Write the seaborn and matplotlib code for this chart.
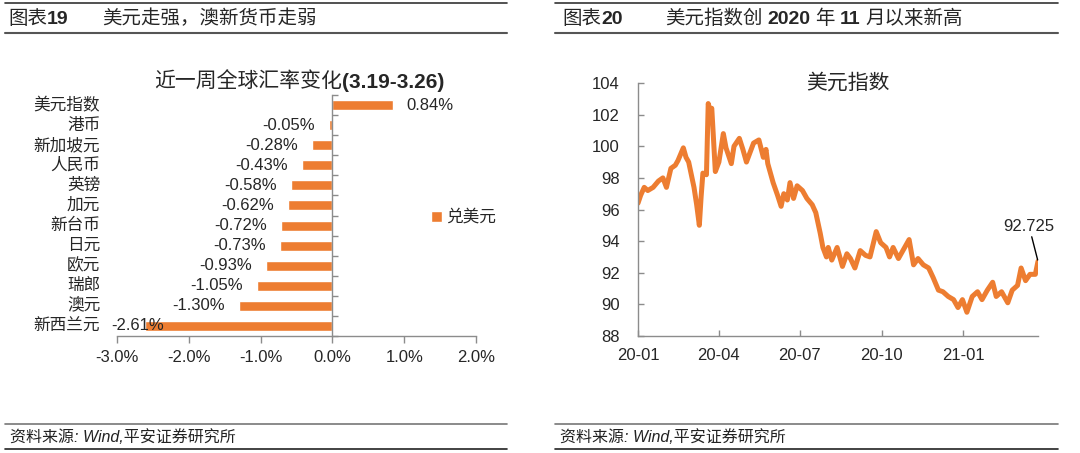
import pandas as pd
import matplotlib.pyplot as plt
import matplotlib.dates as mdates
from matplotlib.lines import Line2D
from matplotlib.ticker import FixedLocator, FuncFormatter
from matplotlib.transforms import blended_transform_factory
import seaborn as sns

# ---------- data ----------
currencies = ['美元指数', '港币', '新加坡元', '人民币', '英镑', '加元',
              '新台币', '日元', '欧元', '瑞郎', '澳元', '新西兰元']
weekly_change = [0.84, -0.05, -0.28, -0.43, -0.58, -0.62,
                 -0.72, -0.73, -0.93, -1.05, -1.30, -2.61]
series_name = '兑美元'

dxy_dates = [
    '2020-01-01', '2020-01-04', '2020-01-08', '2020-01-12', '2020-01-18', '2020-01-24',
    '2020-01-29', '2020-02-02', '2020-02-07', '2020-02-12', '2020-02-15', '2020-02-21',
    '2020-02-24', '2020-02-27', '2020-03-04', '2020-03-07', '2020-03-10', '2020-03-12',
    '2020-03-14', '2020-03-18', '2020-03-20', '2020-03-22', '2020-03-24', '2020-03-28',
    '2020-04-01', '2020-04-06', '2020-04-09', '2020-04-15', '2020-04-18', '2020-04-24',
    '2020-04-28', '2020-05-02', '2020-05-10', '2020-05-16', '2020-05-21', '2020-05-24',
    '2020-05-26', '2020-06-01', '2020-06-06', '2020-06-10', '2020-06-13', '2020-06-17',
    '2020-06-20', '2020-06-24', '2020-06-28', '2020-07-04', '2020-07-09', '2020-07-15',
    '2020-07-19', '2020-07-24', '2020-07-27', '2020-07-31', '2020-08-02', '2020-08-06',
    '2020-08-12', '2020-08-18', '2020-08-23', '2020-08-27', '2020-09-01', '2020-09-07',
    '2020-09-13', '2020-09-18', '2020-09-25', '2020-09-30', '2020-10-06', '2020-10-10',
    '2020-10-14', '2020-10-20', '2020-10-25', '2020-11-01', '2020-11-06', '2020-11-11',
    '2020-11-17', '2020-11-23', '2020-11-28', '2020-12-04', '2020-12-09', '2020-12-15',
    '2020-12-21', '2020-12-26', '2020-12-31', '2021-01-05', '2021-01-11', '2021-01-17',
    '2021-01-22', '2021-01-28', '2021-02-03', '2021-02-07', '2021-02-13', '2021-02-20',
    '2021-02-25', '2021-03-03', '2021-03-07', '2021-03-12', '2021-03-17', '2021-03-23',
    '2021-03-26',
]
dxy_values = [
    96.4, 96.9, 97.4, 97.2, 97.4, 97.8,
    98.0, 97.4, 98.6, 98.8, 99.1, 99.9,
    99.3, 99.0, 97.4, 96.3, 95.0, 96.8,
    98.3, 98.2, 102.7, 102.3, 102.4, 98.4,
    99.0, 100.8, 99.9, 98.9, 100.0, 100.5,
    99.8, 99.0, 100.2, 100.4, 99.3, 99.8,
    98.9, 97.7, 96.9, 96.2, 97.0, 96.6,
    97.7, 96.7, 97.5, 97.2, 96.7, 96.3,
    95.8, 94.5, 93.6, 93.0, 93.6, 92.8,
    93.6, 92.4, 93.2, 92.9, 92.3, 93.4,
    93.1, 93.0, 94.6, 93.9, 93.6, 93.0,
    93.6, 92.9, 93.4, 94.1, 92.5, 92.9,
    92.5, 92.3, 91.7, 90.9, 90.8, 90.5,
    90.3, 89.8, 90.3, 89.5, 90.5, 90.8,
    90.3, 90.9, 91.4, 90.5, 90.8, 90.1,
    90.9, 91.2, 92.3, 91.5, 91.9, 91.9,
    92.725,
]
dxy_ticks = ['2020-01-01', '2020-04-01', '2020-07-01', '2020-10-01', '2021-01-01']
dxy_last_label = '92.725'

ORANGE = '#ED7D31'
AXIS_GRAY = '#8C8C8C'

sns.set_theme(style='white')
plt.rcParams['font.family'] = ['Liberation Sans', 'Noto Sans CJK SC']
plt.rcParams['axes.unicode_minus'] = False

W, H = 1080, 453
fig = plt.figure(figsize=(W / 100, H / 100), dpi=100)
fig.patch.set_facecolor('white')

# ==========================================
# Left: bar chart
# ==========================================
ax1 = fig.add_axes([117 / W, 1 - 336 / H, 359 / W, 241 / H])
bar_df = pd.DataFrame({'currency': currencies, 'change': weekly_change,
                       'series': series_name})
sns.barplot(data=bar_df, x='change', y='currency', hue='series', orient='h',
            palette=[ORANGE], saturation=1, width=0.5, ax=ax1, legend=True)

ax1.set_xlim(-3, 2)
ax1.set_ylim(len(currencies) - 0.5, -0.5)
ax1.set_xlabel('')
ax1.set_ylabel('')
ax1.set_xticks(range(-3, 3))
ax1.xaxis.set_major_formatter(FuncFormatter(lambda v, p: f'{v:.1f}%'))
ax1.tick_params(axis='x', direction='out', length=5, width=1, color=AXIS_GRAY,
                labelsize=12, pad=5, bottom=True)

for s in ['top', 'right']:
    ax1.spines[s].set_visible(False)
ax1.spines['left'].set_position(('data', 0))
for s in ['left', 'bottom']:
    ax1.spines[s].set_color(AXIS_GRAY)
    ax1.spines[s].set_linewidth(1)

# category boundaries as small inward ticks on the zero line
ax1.set_yticks(range(len(currencies)))
ax1.set_yticklabels([])
ax1.yaxis.set_minor_locator(FixedLocator([i - 0.5 for i in range(len(currencies) + 1)]))
ax1.tick_params(axis='y', which='major', length=0)
ax1.tick_params(axis='y', which='minor', direction='in', length=4, width=1,
                color=AXIS_GRAY, left=True)

lab_tr = blended_transform_factory(ax1.transAxes, ax1.transData)
for i, name in enumerate(currencies):
    ax1.text(-0.047, i, name, transform=lab_tr, ha='right', va='center', fontsize=12)

for i, v in enumerate(weekly_change):
    txt = f'{v:.2f}%'
    if v >= 0:
        ax1.annotate(txt, (v, i), xytext=(10, 0), textcoords='offset points',
                     ha='left', va='center', fontsize=12)
    elif v > -2.3:
        ax1.annotate(txt, (v, i), xytext=(-10, 0), textcoords='offset points',
                     ha='right', va='center', fontsize=12)
    else:
        # no room left of the bar: Excel pushes it onto the bar
        ax1.annotate(txt, (-3, i), xytext=(-4.5, 0), textcoords='offset points',
                     ha='left', va='center', fontsize=12, annotation_clip=False)

handles, labels = ax1.get_legend_handles_labels()
ax1.legend(handles, labels, loc='center left',
           bbox_to_anchor=(431 / W, 1 - 217 / H), bbox_transform=fig.transFigure,
           frameon=False, fontsize=12, handlelength=0.65, handleheight=0.65,
           handletextpad=0.25, borderpad=0, borderaxespad=0)

fig.text(342 / W, 1 - 88 / H, '近一周全球汇率变化', ha='right', va='baseline', fontsize=15)
fig.text(342 / W, 1 - 88 / H, '(3.19-3.26)', ha='left', va='baseline',
         fontsize=15, fontweight='bold')

# ==========================================
# Right: dollar index line
# ==========================================
ax2 = fig.add_axes([638 / W, 1 - 336 / H, 400 / W, 253 / H])
dxy_df = pd.DataFrame({'date': pd.to_datetime(dxy_dates), 'dxy': dxy_values})
sns.lineplot(data=dxy_df, x='date', y='dxy', color=ORANGE, linewidth=3.6, ax=ax2)

ax2.set_xlim(dxy_df['date'].iloc[0], dxy_df['date'].iloc[-1])
ax2.set_ylim(88, 104)
ax2.set_yticks(range(88, 105, 2))
ax2.set_xticks(pd.to_datetime(dxy_ticks))
ax2.xaxis.set_major_formatter(mdates.DateFormatter('%y-%m'))
ax2.set_xlabel('')
ax2.set_ylabel('')
for s in ['top', 'right']:
    ax2.spines[s].set_visible(False)
for s in ['left', 'bottom']:
    ax2.spines[s].set_color(AXIS_GRAY)
    ax2.spines[s].set_linewidth(1)
ax2.tick_params(axis='y', direction='in', length=4, width=1, color=AXIS_GRAY,
                labelsize=12, pad=13, left=True)
ax2.tick_params(axis='x', direction='in', length=4, width=1, color=AXIS_GRAY,
                labelsize=12, pad=9, bottom=True)

ax2.annotate(dxy_last_label, (dxy_df['date'].iloc[-1], dxy_values[-1]),
             xytext=(-6.5, 20), textcoords='offset points', ha='center', va='bottom',
             fontsize=12, annotation_clip=False,
             arrowprops=dict(arrowstyle='-', color='black', lw=1, shrinkA=0, shrinkB=1))

fig.text(848 / W, 1 - 83 / H, '美元指数', ha='center', va='center', fontsize=15)

# ==========================================
# Page frame: headers and source notes
# ==========================================
renderer = fig.canvas.get_renderer()


def chain_text(x_px, y_px, parts, size):
    # parts: (text, weight, gap before in px)
    x = x_px
    for s, weight, gap in parts:
        x += gap
        t = fig.text(x / W, 1 - y_px / H, s, ha='left', va='baseline',
                     fontsize=size, fontweight=weight)
        x = t.get_window_extent(renderer).x1


for x0, x1 in [(5, 507), (555, 1058)]:
    fig.add_artist(Line2D([x0 / W, x1 / W], [1 - 3 / H, 1 - 3 / H], color='#333333', lw=1.2))
    fig.add_artist(Line2D([x0 / W, x1 / W], [1 - 33 / H, 1 - 33 / H], color='#555555', lw=1.5))
    fig.add_artist(Line2D([x0 / W, x1 / W], [1 - 424 / H, 1 - 424 / H], color='#777777', lw=1.2))
    fig.add_artist(Line2D([x0 / W, x1 / W], [1 - 449 / H, 1 - 449 / H], color='#222222', lw=1.2))

chain_text(8, 24, [('图表', 'normal', 0), ('19', 'bold', 0)], 14)
chain_text(102, 24, [('美元走强，澳新货币走弱', 'normal', 0)], 14)
chain_text(562, 24, [('图表', 'normal', 0), ('20', 'bold', 0)], 14)
chain_text(665, 24, [('美元指数创', 'normal', 0), ('2020', 'bold', 5), ('年', 'normal', 5),
                     ('11', 'bold', 5), ('月以来新高', 'normal', 5)], 14)

for x0 in [10, 560]:
    fig.text(x0 / W, 1 - 437 / H, '资料来源: Wind,平安证券研究所', ha='left', va='center',
             fontsize=11.5, style='italic', color='#222222')

fig.savefig('out.png', dpi=100, facecolor='white')
